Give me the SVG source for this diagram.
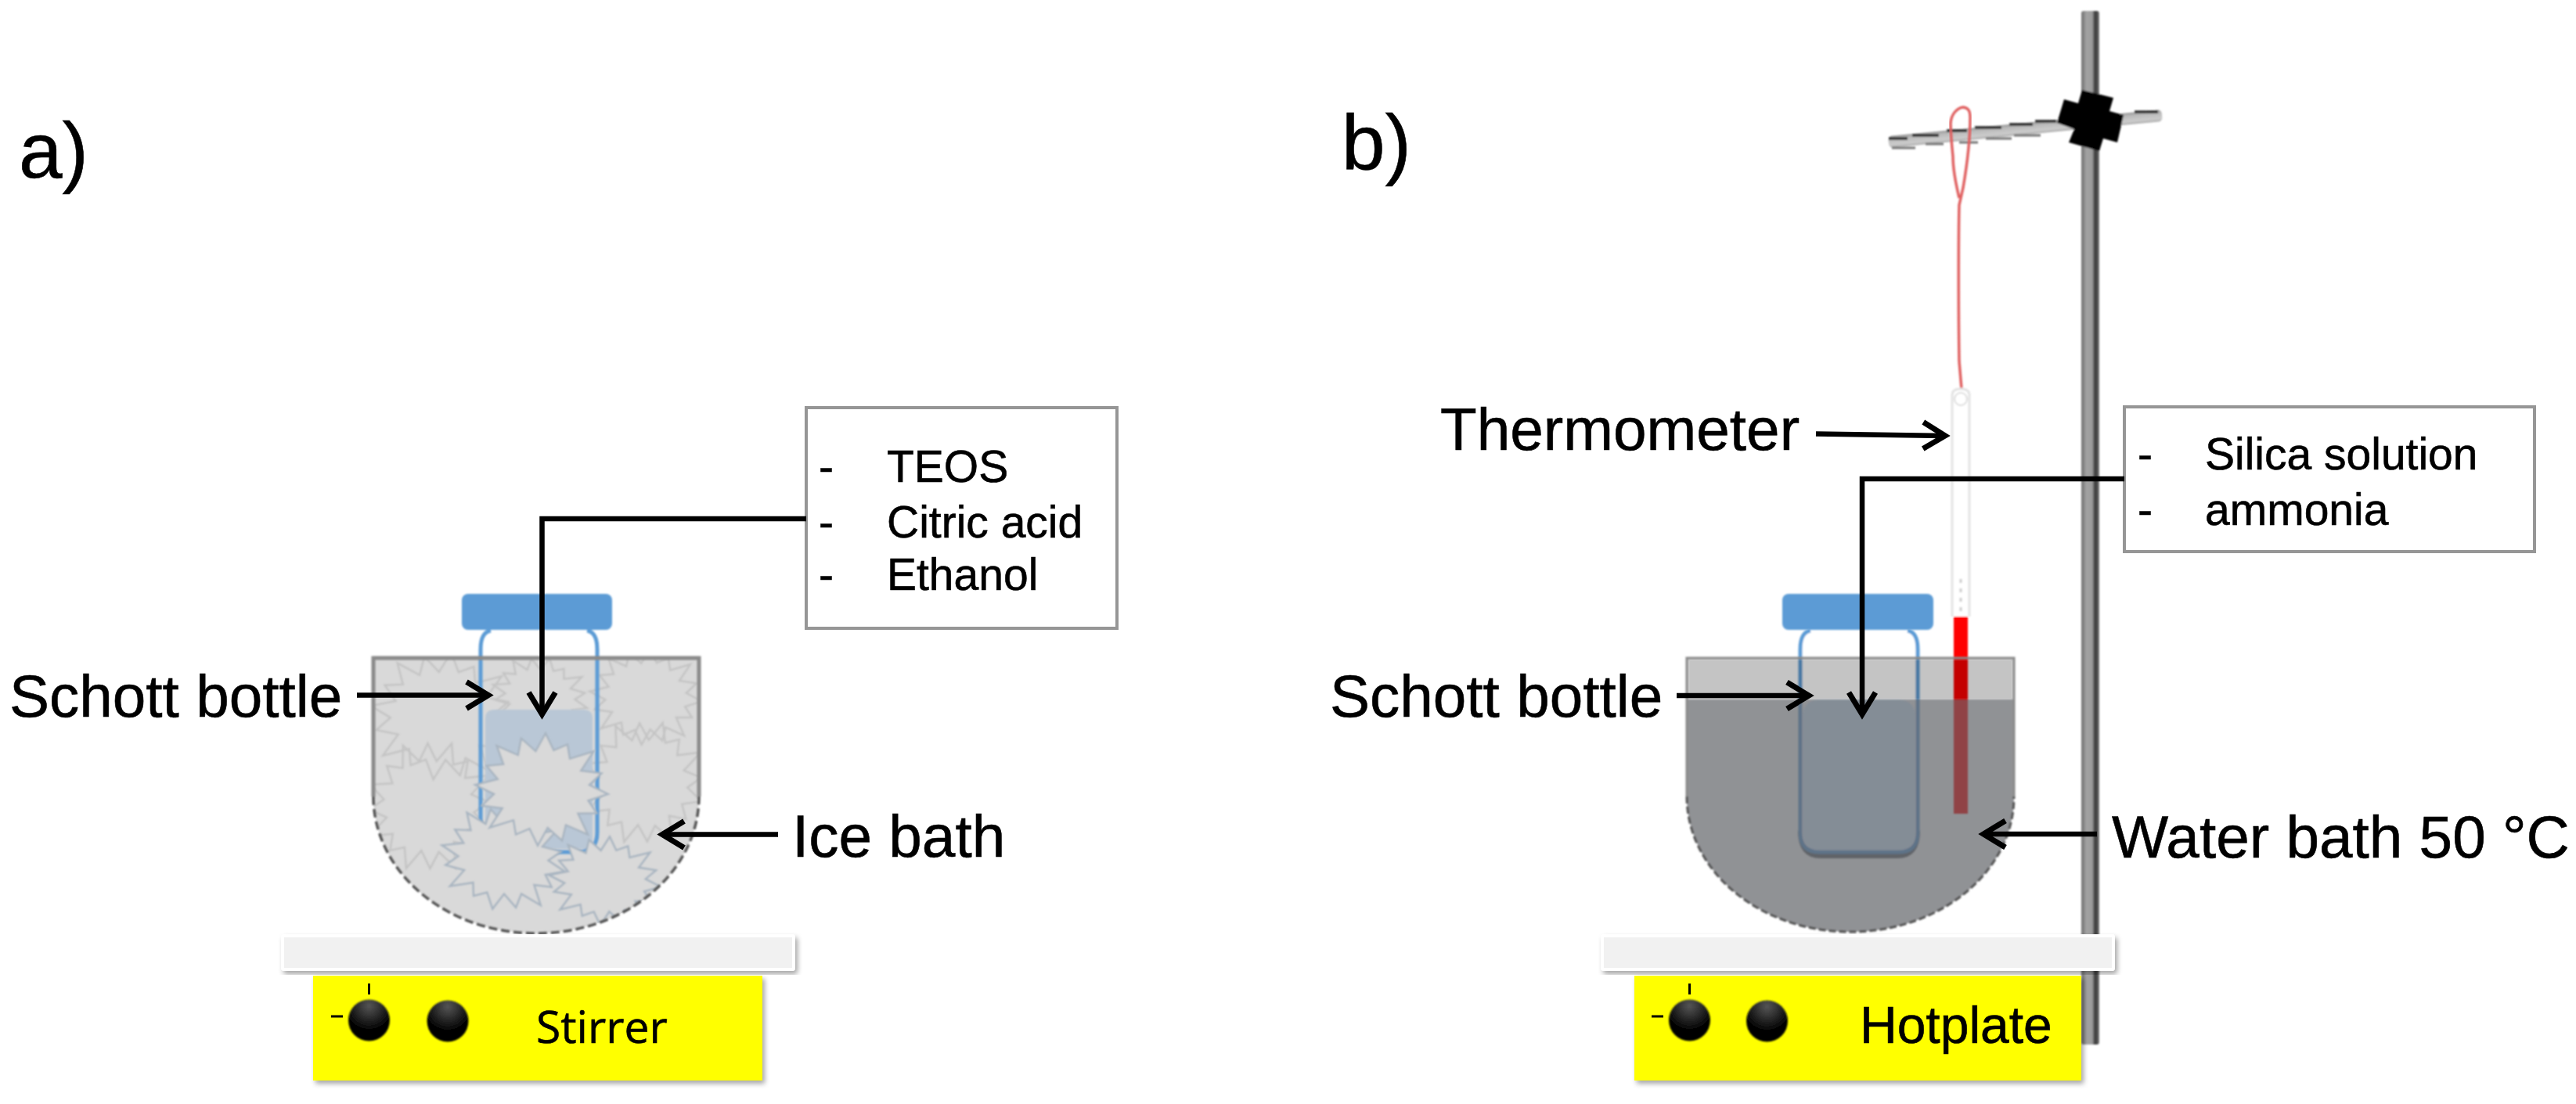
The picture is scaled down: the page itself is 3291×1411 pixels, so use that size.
<svg xmlns="http://www.w3.org/2000/svg" xmlns:xlink="http://www.w3.org/1999/xlink" width="3291" height="1411" viewBox="0 0 3291 1411">
<style>
text{font-family:"Liberation Sans",Arial,sans-serif;fill:#000;stroke:#000;stroke-width:.6}
.lab{font-size:76.5px}
.big{font-size:100px}
.lst{font-size:57px}
.st{font-family:"Open Sans",sans-serif;font-size:57px}
.hp{font-size:66px}
.cap{fill:#5b9bd5}
.plate{fill:#f1f1f1;stroke:#fff;stroke-width:4}
.yel{fill:#ff0}
.box{fill:#fff;stroke:#969696;stroke-width:4}
.con{fill:none;stroke:#000;stroke-width:6.5;marker-end:url(#ah)}
.bot{fill:none;stroke:#5b9bd5;stroke-width:5}
.tick{stroke:#000;stroke-width:3}
.under{fill:none;stroke:#c4c4c4;stroke-width:2.5}
.over{fill:#d9d9d9;stroke:#a9b5c1;stroke-width:2.5}
</style>
<defs>
<marker id="ah" markerUnits="userSpaceOnUse" markerWidth="44" markerHeight="44" refX="36" refY="22" orient="auto" overflow="visible"><path d="M8,5 L36,22 L8,39" fill="none" stroke="#000" stroke-width="7"/></marker>
<filter id="soft" x="-5%" y="-5%" width="110%" height="110%"><feGaussianBlur stdDeviation="1.2"/></filter>
<filter id="shadow" x="-5%" y="-10%" width="110%" height="125%"><feDropShadow dx="3" dy="4" stdDeviation="3" flood-color="#000" flood-opacity=".35"/></filter>
<linearGradient id="rod" x1="0" x2="1" y1="0" y2="0"><stop offset="0" stop-color="#6e6e6e"/><stop offset=".3" stop-color="#a4a4a4"/><stop offset=".62" stop-color="#9a9a9a"/><stop offset=".72" stop-color="#444"/><stop offset=".88" stop-color="#444"/><stop offset="1" stop-color="#888"/></linearGradient>
<linearGradient id="arm" x1="0" x2="0" y1="0" y2="1"><stop offset="0" stop-color="#999"/><stop offset=".3" stop-color="#bbb"/><stop offset=".75" stop-color="#ccc"/><stop offset="1" stop-color="#aaa"/></linearGradient>
<radialGradient id="knob" cx=".5" cy=".15" r=".6"><stop offset="0" stop-color="#555"/><stop offset="1" stop-color="#000"/></radialGradient>
<polygon id="star" vector-effect="non-scaling-stroke" points="100,0 71,14 85,35 57,38 74,74 40,60 36,88 13,67 0,100 -14,71 -34,83 -39,58 -74,74 -57,38 -88,36 -71,14 -100,0 -67,-13 -85,-35 -60,-40 -72,-72 -39,-58 -36,-88 -13,-67 0,-100 14,-71 34,-83 39,-58 74,-74 57,-38 88,-36 71,-14"/>
<clipPath id="bathA"><path d="M477,841 H893 V1018 A208,175 0 0 1 477,1018 Z"/></clipPath>
</defs>
<rect width="3291" height="1411" fill="#fff"/>

<g id="ice-bath" filter="url(#soft)">
<path d="M477,841 H893 V1018 A208,175 0 0 1 477,1018 Z" fill="#d9d9d9"/>
<g clip-path="url(#bathA)">
<use href="#star" class="under" transform="translate(565,915) rotate(8) scale(.92,.82)"/>
<use href="#star" class="under" transform="translate(548,1030) rotate(20) scale(.8,.85)"/>
<use href="#star" class="under" transform="translate(690,890) rotate(14) scale(.62,.5)"/>
<use href="#star" class="under" transform="translate(825,890) rotate(5) scale(.72,.62)"/>
<use href="#star" class="under" transform="translate(822,1000) rotate(18) scale(.78,.8)"/>
</g>
</g>
<g id="schott-bottle-a" filter="url(#soft)">
<path d="M620,918 Q620,907 632,907 H745 Q757,907 757,918 V1085 H620 Z" fill="#b9c7d6"/>
<path d="M627,806 Q614,808 614,830 V1064 Q614,1089 639,1089 H738 Q763,1089 763,1064 V830 Q763,808 750,806" class="bot"/>
<rect x="590" y="759" width="192" height="46" rx="8" class="cap"/>
</g>
<g id="ice-pieces" filter="url(#soft)" clip-path="url(#bathA)">
<use href="#star" class="over" transform="translate(773,1126) rotate(6) scale(.72,.57)"/>
<use href="#star" class="over" transform="translate(643,1097) rotate(12) scale(.8,.66)"/>
<use href="#star" class="over" transform="translate(692,1009) rotate(4) scale(.85,.72)"/>
</g>
<g id="ice-bath-outline" filter="url(#soft)" fill="none">
<path d="M477,1018 V841 H893 V1018" stroke="#8a8a8a" stroke-width="5"/>
<path d="M477,1018 A208,175 0 0 0 893,1018" stroke="#555" stroke-width="3.5" stroke-dasharray="11 5"/>
</g>
<g id="plate-a"><rect x="361" y="1196" width="653" height="43" rx="2" class="plate" filter="url(#shadow)"/></g>
<g id="stirrer">
<rect x="400" y="1247" width="574" height="134" class="yel" filter="url(#shadow)"/>
<circle cx="471.5" cy="1304" r="26.5" fill="url(#knob)" filter="url(#soft)"/>
<circle cx="572" cy="1305" r="26.5" fill="url(#knob)" filter="url(#soft)"/>
<path d="M471.5,1257V1271M423,1299H438" class="tick"/>
<text x="685" y="1333" class="st">Stirrer</text>
</g>

<g id="stand" filter="url(#soft)">
<rect x="2659" y="14" width="23" height="1321" rx="3" fill="url(#rod)"/>
<rect x="2412" y="157" width="351" height="15" rx="5" fill="url(#arm)" transform="rotate(-5.56 2588 165)"/>
<path d="M2413,177H2437M2443,173H2477M2487,167H2513M2523,163H2557M2567,159H2597M2600,155H2627M2727,143H2757" stroke="#2a2a2a" stroke-width="3.5" fill="none"/>
<path d="M2417,189H2447M2460,184H2483M2503,182H2527M2537,177H2570M2573,173H2607" stroke="#777" stroke-width="3" fill="none"/>
<polygon points="2660,115 2700,125 2695,142 2713,147 2705,182 2687,177 2682,193 2643,182 2650,165 2628,157 2637,127 2655,132" fill="#000"/>
</g>
<g id="thermometer" filter="url(#soft)">
<path d="M2503,253 C2497,228 2495,210 2495,200 C2493,180 2492,168 2492,157 C2493,146 2500,138 2508,137 C2515,138 2517,142 2517,150 C2517,170 2514,205 2508,240 L2503,262 C2502,300 2502,400 2503,462 L2506,497" fill="none" stroke="#e06060" stroke-width="3.5"/>
<path d="M2494,788 V505 Q2494,497 2505,497 Q2516,497 2516,505 V788" fill="#fff" stroke="#e3e3e3" stroke-width="3"/>
<circle cx="2505" cy="510" r="8" fill="none" stroke="#ddd" stroke-width="2"/>
<path d="M2505,740V782" stroke="#ccc" stroke-width="3" stroke-dasharray="5 7"/>
<rect x="2496" y="788" width="18" height="252" fill="#f00"/>
</g>
<g id="schott-bottle-b" filter="url(#soft)">
<path d="M2300,1062 Q2300,1094 2326,1094 H2424 Q2450,1094 2450,1062" fill="none" stroke="#62676d" stroke-width="6"/>
<path d="M2313,806 Q2300,808 2300,830 V1064 Q2300,1089 2325,1089 H2425 Q2450,1089 2450,1064 V830 Q2450,808 2437,806" fill="#fff" stroke="#5b9bd5" stroke-width="5"/>
</g>
<g id="water-bath" filter="url(#soft)">
<path d="M2155,841 H2573 V1018 A209,173 0 0 1 2155,1018 Z" fill="#000" fill-opacity=".23"/>
<path d="M2155,894 H2573 V1018 A209,173 0 0 1 2155,1018 Z" fill="#6d7075" fill-opacity=".6"/>
<rect x="2303" y="894" width="144" height="193" rx="20" fill="#5b7a9b" fill-opacity=".22"/>
<path d="M2155,1018 V841 H2573 V1018" fill="none" stroke="#8a8a8a" stroke-width="3"/>
<path d="M2155,1018 A209,173 0 0 0 2573,1018" fill="none" stroke="#555" stroke-width="3" stroke-dasharray="9 4"/>
<rect x="2277" y="759" width="193" height="46" rx="8" class="cap"/>
</g>
<g id="plate-b"><rect x="2047" y="1196" width="653" height="43" rx="2" class="plate" filter="url(#shadow)"/></g>
<g id="hotplate">
<rect x="2088" y="1247" width="571" height="134" class="yel" filter="url(#shadow)"/>
<circle cx="2158.5" cy="1304" r="26.5" fill="url(#knob)" filter="url(#soft)"/>
<circle cx="2257.5" cy="1305" r="26.5" fill="url(#knob)" filter="url(#soft)"/>
<path d="M2158.5,1257V1271M2110,1299H2125" class="tick"/>
<text x="2376" y="1333" class="hp">Hotplate</text>
</g>

<g id="box-a">
<rect x="1030" y="521" width="397" height="282" class="box"/>
<text class="lst"><tspan x="1046" y="616">-</tspan><tspan x="1133" y="616">TEOS</tspan><tspan x="1046" y="687">-</tspan><tspan x="1133" y="687">Citric acid</tspan><tspan x="1046" y="754">-</tspan><tspan x="1133" y="754">Ethanol</tspan></text>
</g>
<g id="box-b">
<rect x="2714" y="520" width="524" height="185" class="box"/>
<text class="lst"><tspan x="2731" y="600">-</tspan><tspan x="2817" y="600">Silica solution</tspan><tspan x="2731" y="671">-</tspan><tspan x="2817" y="671">ammonia</tspan></text>
</g>

<g id="connectors">
<path d="M1030,663 H692.5 V913" class="con"/>
<path d="M456,888.5 H624" class="con"/>
<path d="M994,1066.5 H846" class="con"/>
<path d="M2714,612 H2379 V913" class="con"/>
<path d="M2142,889 H2311" class="con"/>
<path d="M2320,554.5 L2485,557" class="con"/>
<path d="M2679,1066 H2534" class="con"/>
</g>

<g id="labels">
<text x="24" y="227" class="big">a)</text>
<text x="1714" y="217" class="big">b)</text>
<text x="12" y="916" class="lab">Schott bottle</text>
<text x="1012" y="1095" class="lab">Ice bath</text>
<text x="1699" y="916" class="lab">Schott bottle</text>
<text x="1840" y="575" class="lab">Thermometer</text>
<text x="2698" y="1096" class="lab">Water bath 50 °C</text>
</g>
</svg>
